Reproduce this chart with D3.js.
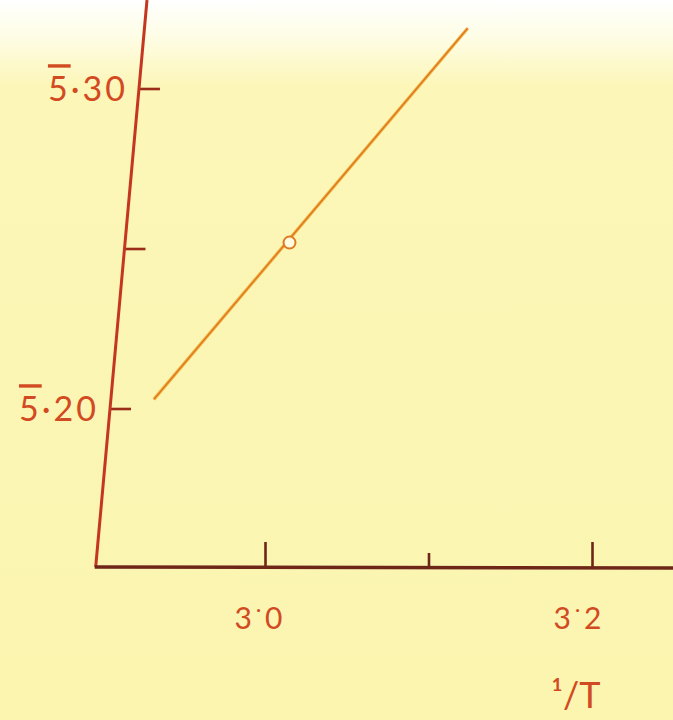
<!DOCTYPE html>
<html>
<head>
<meta charset="utf-8">
<script src="https://cdn.jsdelivr.net/npm/d3@7"></script>
<style>
  html, body { margin: 0; padding: 0; background: #fcf6b6; }
  svg { display: block; }
  .bar { text-decoration: overline; }
</style>
</head>
<body>
<svg id="chart" width="673" height="720"></svg>
<script>
// log k against 1/T (×10³) — a single straight-line fit with one measured point
const xTicks = [3.0, 3.1, 3.2];
const xTickLabels = ["3", "", "3"];          // integer part; decimal drawn raised
const xTickDecimals = ["0", "", "2"];
const yTicks = [5.20, 5.25, 5.30];
const yTickChar = ["5", "", "5"];            // bar (negative) characteristic
const yTickMant = ["\u00b720", "", "\u00b730"];
const lineX = [2.932, 3.124];
const lineY = [5.203, 5.319];
const pointX = [3.015];
const pointY = [5.252];

const svg = d3.select("#chart");
const W = 673, H = 720;

// paper background, paler towards the top edge
const defs = svg.append("defs");
const g = defs.append("linearGradient").attr("id", "paper").attr("x1", 0).attr("y1", 0).attr("x2", 0).attr("y2", 1);
g.append("stop").attr("offset", "0").attr("stop-color", "#ffffff");
g.append("stop").attr("offset", "0.05").attr("stop-color", "#fefde6");
g.append("stop").attr("offset", "0.12").attr("stop-color", "#fcf6b8");
g.append("stop").attr("offset", "1").attr("stop-color", "#fbf5b0");
svg.append("rect").attr("width", W).attr("height", H).attr("fill", "url(#paper)");

const x = d3.scaleLinear().domain([3.0, 3.2]).range([265, 592]);
const y = d3.scaleLinear().domain([5.20, 5.30]).range([409, 89]);

const axisY0 = 567;                       // pixel row of the x axis
// the vertical axis leans slightly to the right as it rises
const axisXAt = py => 147 - 0.0905 * py;

const axisRed = "#c4361f";
const axisBrown = "#6e2618";
const labelCol = "#d24a22";
const font = "Lato, 'DejaVu Sans', sans-serif";

// ---- y axis ----
const yAxis = d3.axisRight(y)
  .tickValues(yTicks)
  .tickSize(21)
  .tickFormat(() => "");
const yg = svg.append("g").call(yAxis);
yg.select(".domain").remove();
yg.selectAll(".tick")
  .attr("transform", d => `translate(${axisXAt(y(d))},${y(d)})`);
yg.selectAll(".tick line").attr("stroke", "#9a2c1a").attr("stroke-width", 2.6);

svg.append("line")
  .attr("x1", axisXAt(0)).attr("y1", 0)
  .attr("x2", axisXAt(axisY0)).attr("y2", axisY0)
  .attr("stroke", axisRed).attr("stroke-width", 3);

const yl = yg.selectAll(".tick").append("text")
  .attr("x", -11).attr("y", 0).attr("dy", "0.36em")
  .attr("text-anchor", "end")
  .attr("fill", labelCol)
  .attr("font-family", font)
  .attr("font-size", 34)
  .attr("letter-spacing", 3);
yl.append("tspan").attr("class", "bar").text((d, i) => yTickChar[i]);
yl.append("tspan").text((d, i) => yTickMant[i]);

// ---- x axis ----
const xAxis = d3.axisBottom(x)
  .tickValues(xTicks)
  .tickSizeInner(-25)
  .tickSizeOuter(0)
  .tickFormat(() => "");
const xg = svg.append("g").attr("transform", `translate(0,${axisY0})`).call(xAxis);
xg.select(".domain").remove();
xg.selectAll(".tick line")
  .attr("stroke", axisBrown).attr("stroke-width", 2.6)
  .attr("y2", (d, i) => xTickLabels[i] ? -25 : -14);

svg.append("line")
  .attr("x1", axisXAt(axisY0) - 1).attr("y1", axisY0)
  .attr("x2", W).attr("y2", axisY0 + 1)
  .attr("stroke", axisBrown).attr("stroke-width", 3.5);

const xl = xg.selectAll(".tick").append("text")
  .attr("y", 62).attr("dx", (d, i) => i === 0 ? -5 : -13)
  .attr("text-anchor", "middle")
  .attr("fill", labelCol)
  .attr("font-family", font)
  .attr("font-size", 30)
  .attr("letter-spacing", 4);
xl.append("tspan").text((d, i) => xTickLabels[i]);
xl.append("tspan").attr("dy", -13).attr("font-size", 20).text((d, i) => xTickLabels[i] ? "\u00b7" : "");
xl.append("tspan").attr("dy", 13).text((d, i) => xTickDecimals[i]);

// axis title 1/T
svg.append("text")
  .attr("x", 551).attr("y", 708)
  .attr("fill", labelCol)
  .attr("font-family", font)
  .attr("font-size", 36)
  .text("\u00b9/T");

// ---- fitted line and measured point ----
const lineData = lineX.map((v, i) => [v, lineY[i]]);
const lineGen = d3.line().x(d => x(d[0])).y(d => y(d[1]));
svg.append("path").datum(lineData)
  .attr("d", lineGen)
  .attr("fill", "none")
  .attr("stroke", "#eeb038").attr("stroke-width", 3.2);
svg.append("path").datum(lineData)
  .attr("d", lineGen)
  .attr("fill", "none")
  .attr("stroke", "#d8561e").attr("stroke-width", 1.2).attr("opacity", 0.7);

svg.selectAll("circle.pt")
  .data(pointX.map((v, i) => [v, pointY[i]]))
  .join("circle")
  .attr("class", "pt")
  .attr("cx", d => x(d[0])).attr("cy", d => y(d[1]))
  .attr("r", 6)
  .attr("fill", "#fffbe0")
  .attr("stroke", "#e07a22").attr("stroke-width", 2);
</script>
</body>
</html>
